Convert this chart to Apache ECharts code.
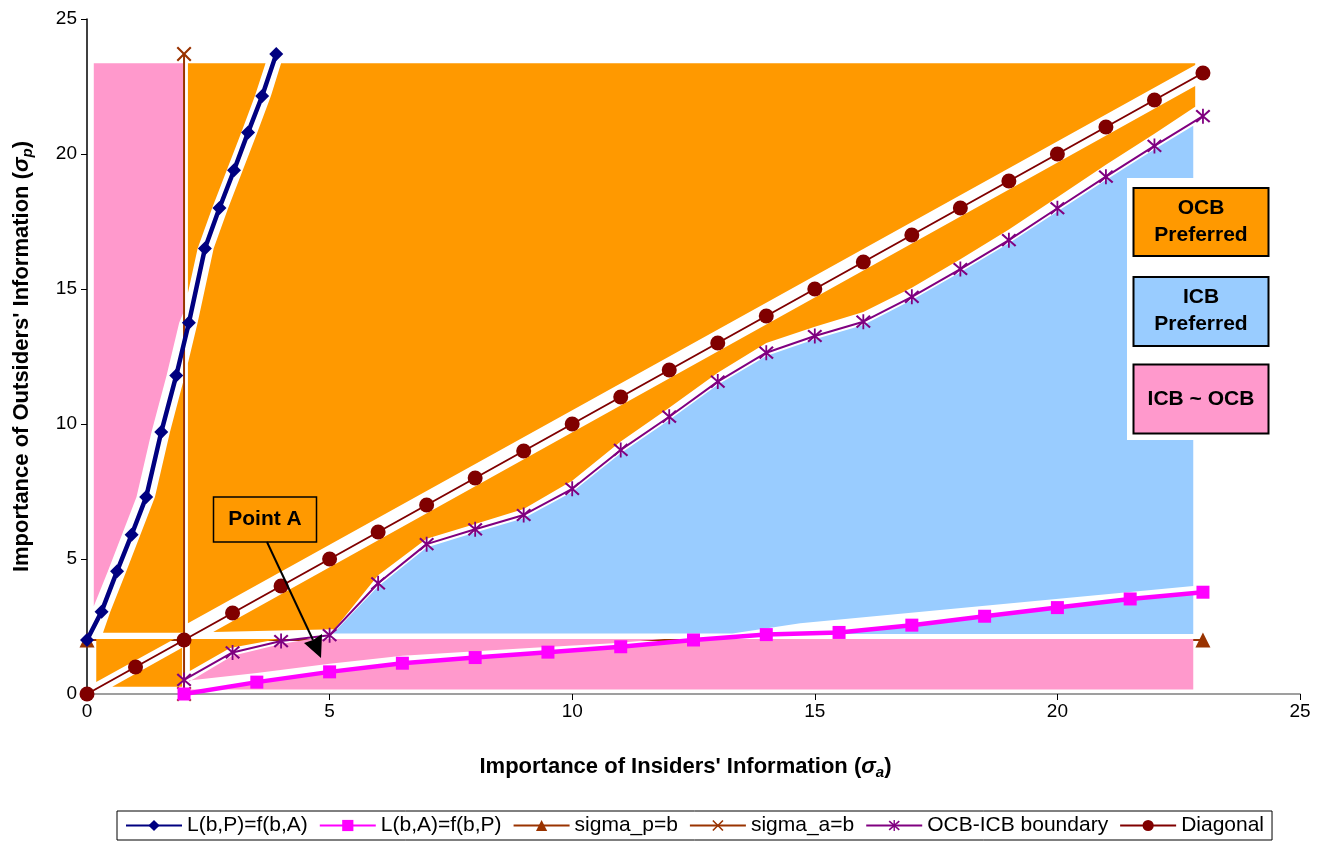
<!DOCTYPE html>
<html>
<head>
<meta charset="utf-8">
<script src="https://cdn.jsdelivr.net/npm/echarts@6/dist/echarts.min.js"></script>
<style>
  html, body { margin: 0; padding: 0; background: #fff; }
  #main { width: 1317px; height: 842px; }
</style>
</head>
<body>
<div id="main"></div>
<script>
// series values
var navyX = [0, 0.3, 0.62, 0.92, 1.22, 1.53, 1.84, 2.1, 2.43, 2.73, 3.03, 3.32, 3.61, 3.9];
var navyY = [2.0, 3.05, 4.55, 5.9, 7.3, 9.7, 11.8, 13.75, 16.5, 18.0, 19.4, 20.8, 22.15, 23.7];
var magX = [2, 3.5, 5, 6.5, 8, 9.5, 11, 12.5, 14, 15.5, 17, 18.5, 20, 21.5, 23];
var magY = [0, 0.44, 0.82, 1.14, 1.35, 1.55, 1.75, 2.0, 2.2, 2.28, 2.55, 2.88, 3.2, 3.52, 3.77];
var sigPX = [0, 23];
var sigPY = [2, 2];
var sigAX = [2, 2];
var sigAY = [0, 23.7];
var bndX = [2, 3, 4, 5, 6, 7, 8, 9, 10, 11, 12, 13, 14, 15, 16, 17, 18, 19, 20, 21, 22, 23];
var bndY = [0.52, 1.54, 1.96, 2.18, 4.1, 5.55, 6.1, 6.63, 7.6, 9.04, 10.27, 11.57, 12.64, 13.26, 13.79, 14.71, 15.74, 16.81, 17.99, 19.16, 20.3, 21.4];
var diagX = [0, 1, 2, 3, 4, 5, 6, 7, 8, 9, 10, 11, 12, 13, 14, 15, 16, 17, 18, 19, 20, 21, 22, 23];
var diagY = [0, 1, 2, 3, 4, 5, 6, 7, 8, 9, 10, 11, 12, 13, 14, 15, 16, 17, 18, 19, 20, 21, 22, 23];

// shaded regions (corners in axis units, white gaps between them)
var pinkTopLeft = [[0.14,23.36],[1.98,23.36],[1.98,14.1],[1.9,13.75],[1.64,11.8],[1.33,9.7],[1.02,7.3],[0.72,5.9],[0.42,4.5],[0.14,3.25]];
var orangeNavyGap = [[1.98,11.55],[1.71,9.7],[1.40,7.3],[1.10,5.9],[0.80,4.5],[0.48,3.05],[0.33,2.27],[1.98,2.27]];
var orangeLeftOfNavy = [[2.08,23.36],[3.68,23.36],[3.46,22.15],[3.18,20.8],[2.88,19.4],[2.58,18.0],[2.28,16.5],[2.08,14.85]];
var orangeTop = [[4.0,23.36],[22.84,23.36],[22.84,23.3],[2.08,2.62],[2.08,12.25],[2.28,13.75],[2.61,16.5],[2.91,18.0],[3.21,19.4],[3.51,20.8],[3.79,22.15]];
var orangeBand = [[2.6,2.3],[22.84,22.52],[22.84,21.75],[22,20.75],[21,19.6],[20,18.4],[19,17.2],[18,16.1],[17,15.05],[16,14.15],[15,13.6],[14,13.0],[13,11.9],[12,10.6],[11,9.35],[10,7.9],[9,6.85],[8,6.3],[7,5.75],[6,4.4],[5.1,2.4]];
var blueRegion = [[5.07,2.24],[13.3,2.24],[14.7,2.62],[22.8,4.0],[22.8,21.05],[22,20.18],[21,19.04],[20,17.87],[19,16.69],[18,15.62],[17,14.59],[16,13.67],[15,13.14],[14,12.52],[13,11.45],[12,10.15],[11,8.92],[10,7.48],[9,6.51],[8,5.98],[7,5.43],[6,3.98]];
var blueUnderMag = [[14.5,2.22],[22.8,2.22],[22.8,3.74],[15.5,2.27]];
var orangeBoxUpper = [[0.19,2.04],[1.8,2.04],[0.19,0.44]];
var orangeBoxLower = [[0.52,0.27],[1.96,0.27],[1.96,1.71]];
var orangeUnderBand = [[2.12,2.04],[3.95,2.04],[2.95,1.7],[2.12,0.85]];
var pinkMid = [[2.1,0.45],[3,1.42],[4,1.85],[4.6,2.04],[11.9,2.04],[10.84,1.88],[9.2,1.71],[6.5,1.42],[5,1.12],[3.5,0.78],[2.1,0.5]];
var pinkLow = [[2.1,0.17],[22.8,0.17],[22.8,2.04],[12.5,2.04],[11,1.75],[9.5,1.55],[8,1.35],[6.5,1.13],[5,0.8],[3.5,0.42],[2.1,0.02]];

var ORANGE = '#FF9900', BLUE = '#99CCFF', PINK = '#FF99CC';
var regions = [
    [pinkTopLeft, PINK], [orangeNavyGap, ORANGE], [orangeLeftOfNavy, ORANGE], [orangeTop, ORANGE],
    [orangeBand, ORANGE], [blueRegion, BLUE], [blueUnderMag, BLUE], [orangeBoxUpper, ORANGE],
    [orangeBoxLower, ORANGE], [orangeUnderBand, ORANGE], [pinkMid, PINK], [pinkLow, PINK]
];

var FONT = '"Liberation Sans", Arial, sans-serif';

function pairs(xs, ys) {
    var out = [];
    for (var i = 0; i < xs.length; i++) out.push([xs[i], ys[i]]);
    return out;
}

var xMark = 'path://M0,1L1,0L5,4L9,0L10,1L6,5L10,9L9,10L5,6L1,10L0,9L4,5Z';
var starMark = 'path://M0,1.6L1,0.6L5,4.2L9,0.6L10,1.6L6,5L10,8.4L9,9.4L5,5.8L1,9.4L0,8.4L4,5ZM4.4,0L5.6,0L5.6,10L4.4,10Z';

function lineSeries(name, data, color, width, symbol, size, z) {
    return {
        name: name, type: 'line', data: data, z: z, clip: false,
        symbol: symbol, symbolSize: size, showSymbol: true,
        lineStyle: { color: color, width: width },
        itemStyle: { color: color },
        emphasis: { disabled: true }
    };
}

var titleRich = {
    it: { fontSize: 22, fontWeight: 'bold', fontStyle: 'italic', fontFamily: FONT, color: '#000' },
    sub: { fontSize: 15, fontWeight: 'bold', fontStyle: 'italic', fontFamily: FONT, color: '#000', padding: [11, 0, 0, 0] }
};

var myChart = echarts.init(document.getElementById('main'));

myChart.setOption({
    animation: false,
    grid: { left: 87, right: 17, top: 19, bottom: 148, containLabel: false },
    xAxis: {
        type: 'value', min: 0, max: 25, interval: 5,
        splitLine: { show: false },
        axisLine: { show: true, onZero: false, lineStyle: { color: '#808080', width: 1.5 } },
        axisTick: { show: true, length: 6, lineStyle: { color: '#000' } },
        axisLabel: { fontSize: 19, color: '#000', fontFamily: FONT, margin: 8 },
        name: "Importance of Insiders' Information ({it|σ}{sub|a})",
        nameLocation: 'middle', nameGap: 60,
        nameTextStyle: { fontSize: 22, fontWeight: 'bold', color: '#000', fontFamily: FONT, padding: [0, 16, 0, 0], rich: titleRich }
    },
    yAxis: {
        type: 'value', min: 0, max: 25, interval: 5,
        splitLine: { show: false },
        axisLine: { show: true, onZero: false, lineStyle: { color: '#000', width: 1.5 } },
        axisTick: { show: true, length: 6, lineStyle: { color: '#000' } },
        axisLabel: { fontSize: 19, color: '#000', fontFamily: FONT, margin: 10 },
        name: "Importance of Outsiders' Information ({it|σ}{sub|p})",
        nameLocation: 'middle', nameGap: 52, nameRotate: 90,
        nameTextStyle: { fontSize: 22, fontWeight: 'bold', color: '#000', fontFamily: FONT, rich: titleRich }
    },
    legend: {
        data: ['L(b,P)=f(b,A)', 'L(b,A)=f(b,P)', 'sigma_p=b', 'sigma_a=b', 'OCB-ICB boundary', 'Diagonal'],
        left: 117, top: 811,
        borderColor: '#000', borderWidth: 1, padding: [4, 8],
        itemWidth: 56, itemHeight: 14, itemGap: 11,
        textStyle: { fontSize: 21, color: '#000', fontFamily: FONT }
    },
    graphic: [
        { type: 'rect', z: 100, shape: { x: 1127, y: 178, width: 75, height: 262 }, style: { fill: '#fff' } },
        { type: 'rect', z: 101, shape: { x: 1133.5, y: 188, width: 135, height: 68 }, style: { fill: ORANGE, stroke: '#000', lineWidth: 2 } },
        { type: 'text', z: 102, style: { text: 'OCB\nPreferred', x: 1201, y: 222, align: 'center', verticalAlign: 'middle', fontSize: 21, fontWeight: 'bold', fontFamily: FONT, lineHeight: 27, fill: '#000' } },
        { type: 'rect', z: 101, shape: { x: 1133.5, y: 277, width: 135, height: 69 }, style: { fill: BLUE, stroke: '#000', lineWidth: 2 } },
        { type: 'text', z: 102, style: { text: 'ICB\nPreferred', x: 1201, y: 311, align: 'center', verticalAlign: 'middle', fontSize: 21, fontWeight: 'bold', fontFamily: FONT, lineHeight: 27, fill: '#000' } },
        { type: 'rect', z: 101, shape: { x: 1133.5, y: 364.5, width: 135, height: 69 }, style: { fill: PINK, stroke: '#000', lineWidth: 2 } },
        { type: 'text', z: 102, style: { text: 'ICB ~ OCB', x: 1201, y: 399, align: 'center', verticalAlign: 'middle', fontSize: 21, fontWeight: 'bold', fontFamily: FONT, fill: '#000' } },
        // Point A callout
        { type: 'rect', z: 101, shape: { x: 213.5, y: 497, width: 103, height: 45 }, style: { fill: ORANGE, stroke: '#000', lineWidth: 1.5 } },
        { type: 'text', z: 102, style: { text: 'Point A', x: 265, y: 519.5, align: 'center', verticalAlign: 'middle', fontSize: 21, fontWeight: 'bold', fontFamily: FONT, fill: '#000' } },
        { type: 'line', z: 101, shape: { x1: 267, y1: 542, x2: 313, y2: 640 }, style: { stroke: '#000', lineWidth: 2 } },
        { type: 'polygon', z: 101, shape: { points: [[321, 658], [304, 643], [313, 640], [322, 634]] }, style: { fill: '#000' } }
    ],
    series: [
        {
            type: 'custom', name: 'regions', z: 1, silent: true, clip: false,
            data: regions.map(function (r, i) { return [i, 0]; }),
            renderItem: function (params, api) {
                var r = regions[params.dataIndex];
                var pts = r[0].map(function (p) { return api.coord(p); });
                return { type: 'polygon', shape: { points: pts }, style: { fill: r[1] } };
            }
        },
        lineSeries('L(b,P)=f(b,A)', pairs(navyX, navyY), '#000080', 4.5, 'diamond', 14, 5),
        lineSeries('L(b,A)=f(b,P)', pairs(magX, magY), '#FF00FF', 4.5, 'rect', 13, 5),
        lineSeries('sigma_p=b', pairs(sigPX, sigPY), '#993300', 2, 'triangle', 15, 0),
        lineSeries('sigma_a=b', pairs(sigAX, sigAY), '#993300', 2, xMark, 15, 4),
        lineSeries('OCB-ICB boundary', pairs(bndX, bndY), '#800080', 2, starMark, 15, 4),
        lineSeries('Diagonal', pairs(diagX, diagY), '#800000', 2, 'circle', 15, 4)
    ]
});
</script>
</body>
</html>
